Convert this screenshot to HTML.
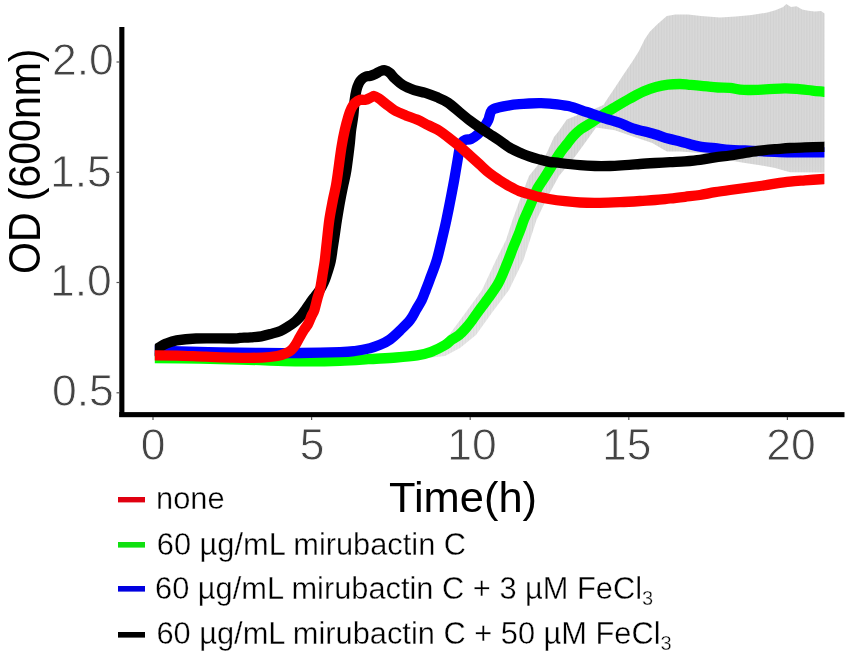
<!DOCTYPE html>
<html><head><meta charset="utf-8"><style>
html,body{margin:0;padding:0;background:#fff;}
body{width:855px;height:656px;overflow:hidden;position:relative;}
svg{position:absolute;left:0;top:0;will-change:transform;}
text{font-family:"Liberation Sans",sans-serif;}
</style></head><body>
<svg width="855" height="656" viewBox="0 0 855 656">
<rect width="855" height="656" fill="#fff"/>
<defs><linearGradient id="bg" gradientUnits="userSpaceOnUse" x1="0" y1="0" x2="0" y2="360"><stop offset="0" stop-color="#d8d8d8"/><stop offset="0.45" stop-color="#d8d8d8"/><stop offset="0.62" stop-color="#e0e0e0"/><stop offset="1" stop-color="#e6e6e6"/></linearGradient>
<pattern id="st" patternUnits="userSpaceOnUse" width="2.8" height="10"><rect x="0" width="1" height="10" fill="#000" fill-opacity="0.035"/></pattern></defs>
<polygon points="418.0,356.0 437.0,348.0 449.0,335.0 466.0,312.0 482.0,290.0 496.0,260.0 506.0,240.0 512.5,220.0 520.5,198.0 529.0,176.0 537.0,166.0 545.4,156.0 549.8,146.3 554.0,137.0 558.3,131.7 566.8,119.5 580.0,114.0 592.0,110.0 603.4,104.9 608.3,97.6 613.2,90.2 618.0,82.9 622.9,75.6 627.8,68.3 632.7,61.0 638.8,51.2 644.9,39.0 649.8,31.7 657.1,24.4 666.8,15.9 675.4,14.5 688.2,14.5 701.0,16.0 720.0,17.4 735.8,16.6 751.6,15.0 767.4,12.6 775.3,10.3 783.2,7.1 786.3,3.9 791.0,7.1 796.6,6.3 802.1,9.5 808.4,10.7 814.7,11.4 821.0,11.0 824.5,13.4 824.5,172.5 790.0,172.2 775.0,168.0 760.0,165.2 745.0,163.0 733.0,161.0 715.0,156.0 700.0,153.0 680.0,151.5 667.0,151.5 661.6,148.5 652.3,143.0 633.6,136.8 614.8,130.2 596.1,127.4 590.0,136.0 575.5,156.0 559.0,176.0 547.0,198.0 536.5,220.0 530.0,240.0 523.5,260.0 509.0,290.0 492.5,312.0 476.0,335.0 460.0,348.0 445.0,356.0 418.0,359.0" fill="url(#bg)"/>
<polygon points="418.0,356.0 437.0,348.0 449.0,335.0 466.0,312.0 482.0,290.0 496.0,260.0 506.0,240.0 512.5,220.0 520.5,198.0 529.0,176.0 537.0,166.0 545.4,156.0 549.8,146.3 554.0,137.0 558.3,131.7 566.8,119.5 580.0,114.0 592.0,110.0 603.4,104.9 608.3,97.6 613.2,90.2 618.0,82.9 622.9,75.6 627.8,68.3 632.7,61.0 638.8,51.2 644.9,39.0 649.8,31.7 657.1,24.4 666.8,15.9 675.4,14.5 688.2,14.5 701.0,16.0 720.0,17.4 735.8,16.6 751.6,15.0 767.4,12.6 775.3,10.3 783.2,7.1 786.3,3.9 791.0,7.1 796.6,6.3 802.1,9.5 808.4,10.7 814.7,11.4 821.0,11.0 824.5,13.4 824.5,172.5 790.0,172.2 775.0,168.0 760.0,165.2 745.0,163.0 733.0,161.0 715.0,156.0 700.0,153.0 680.0,151.5 667.0,151.5 661.6,148.5 652.3,143.0 633.6,136.8 614.8,130.2 596.1,127.4 590.0,136.0 575.5,156.0 559.0,176.0 547.0,198.0 536.5,220.0 530.0,240.0 523.5,260.0 509.0,290.0 492.5,312.0 476.0,335.0 460.0,348.0 445.0,356.0 418.0,359.0" fill="url(#st)"/>
<clipPath id="cp"><rect x="154.8" y="0" width="669.6" height="420"/></clipPath>
<g fill="none" stroke-width="10.3" stroke-linejoin="round" stroke-linecap="butt" clip-path="url(#cp)">
<path d="M149.0,357.9 C150.0,357.9 146.5,357.9 155.0,358.0 C163.5,358.1 185.8,358.2 200.0,358.5 C214.2,358.8 228.3,359.2 240.0,359.5 C251.7,359.8 260.0,360.2 270.0,360.5 C280.0,360.8 288.3,361.2 300.0,361.3 C311.7,361.4 328.6,361.2 340.0,360.8 C351.4,360.4 358.8,359.8 368.1,359.2 C377.5,358.6 387.9,358.1 396.1,357.5 C404.3,356.9 411.4,356.3 417.2,355.4 C423.0,354.5 426.5,353.6 431.2,351.9 C435.9,350.1 441.8,347.0 445.3,344.9 C448.8,342.8 449.7,341.1 452.0,339.5 C454.3,337.9 456.8,336.9 459.1,335.0 C461.4,333.1 463.9,330.4 466.0,328.0 C468.1,325.6 470.0,323.2 472.0,320.5 C474.0,317.8 475.3,315.7 478.0,312.0 C480.7,308.3 484.6,303.3 488.0,298.5 C491.4,293.7 495.4,288.6 498.5,283.0 C501.6,277.4 504.0,270.9 506.5,264.8 C509.0,258.8 511.3,252.2 513.5,246.7 C515.7,241.2 517.8,236.4 519.5,232.0 C521.2,227.6 522.3,223.7 523.8,220.0 C525.2,216.3 526.8,213.3 528.2,210.0 C529.7,206.7 530.9,203.7 532.5,200.0 C534.1,196.3 535.5,192.0 537.7,188.0 C539.9,184.0 543.0,180.0 545.5,176.0 C548.0,172.0 550.5,168.0 553.0,164.0 C555.5,160.0 558.4,155.3 560.7,152.0 C563.0,148.7 564.9,146.7 567.0,144.0 C569.1,141.3 571.0,138.5 573.3,136.0 C575.6,133.5 578.1,131.2 581.0,129.0 C583.9,126.8 587.1,125.4 590.8,123.0 C594.5,120.6 598.8,117.2 603.0,114.5 C607.2,111.8 611.5,109.3 616.0,106.6 C620.5,103.9 625.3,101.0 630.0,98.5 C634.7,96.0 639.7,93.2 644.0,91.3 C648.3,89.4 652.0,88.1 656.0,87.0 C660.0,85.9 664.0,85.1 668.0,84.6 C672.0,84.1 676.5,84.0 680.0,84.0 C683.5,84.0 686.2,84.6 689.0,84.8 C691.8,85.0 693.6,85.1 696.7,85.4 C699.8,85.7 703.9,86.1 707.4,86.4 C710.9,86.8 714.2,87.2 718.0,87.5 C721.8,87.8 725.7,87.5 730.0,87.9 C734.3,88.3 738.1,89.7 744.0,89.9 C749.9,90.2 758.5,89.7 765.3,89.4 C772.0,89.1 779.2,88.4 784.5,88.3 C789.8,88.2 792.7,88.5 797.3,88.9 C801.9,89.3 807.8,90.1 812.3,90.6 C816.8,91.1 821.1,91.5 824.0,91.8 C826.9,92.1 829.0,92.3 830.0,92.4" stroke="#00ff00"/>
<path d="M149.0,350.3 C150.0,350.3 149.8,350.3 155.0,350.5 C160.2,350.7 169.2,351.0 180.0,351.3 C190.8,351.6 206.3,352.0 220.0,352.3 C233.7,352.6 248.7,352.9 262.0,353.0 C275.3,353.1 287.0,353.1 300.0,353.0 C313.0,352.9 330.8,352.5 340.0,352.2 C349.2,351.9 350.0,351.7 355.0,351.0 C360.0,350.3 365.8,349.2 370.0,348.2 C374.2,347.2 376.7,346.2 380.0,344.8 C383.3,343.4 386.7,341.9 390.0,339.5 C393.3,337.1 396.6,333.8 400.0,330.5 C403.4,327.2 407.4,323.4 410.1,320.0 C412.8,316.6 414.1,313.3 416.0,310.0 C417.9,306.7 420.2,303.3 421.8,300.0 C423.4,296.7 424.5,293.3 425.8,290.0 C427.1,286.7 427.8,285.0 429.6,280.0 C431.4,275.0 434.8,266.7 436.8,260.0 C438.8,253.3 440.2,246.7 441.8,240.0 C443.4,233.3 445.0,226.7 446.4,220.0 C447.8,213.3 449.1,206.7 450.4,200.0 C451.7,193.3 453.0,186.7 454.2,180.0 C455.4,173.3 456.7,165.2 457.6,160.0 C458.5,154.8 458.8,151.9 459.5,149.0 C460.2,146.1 460.8,144.0 461.8,142.5 C462.8,141.0 464.0,140.4 465.5,139.8 C467.0,139.2 469.0,139.9 471.0,139.0 C473.0,138.1 475.4,136.5 477.6,134.5 C479.8,132.5 482.2,129.4 484.0,127.0 C485.8,124.6 487.0,122.8 488.3,120.0 C489.6,117.2 489.7,112.6 491.6,110.5 C493.5,108.4 496.5,108.2 499.5,107.3 C502.5,106.4 506.1,105.8 509.4,105.3 C512.7,104.8 516.0,104.5 519.3,104.2 C522.6,103.9 525.9,103.7 529.2,103.5 C532.5,103.3 535.6,103.2 539.1,103.2 C542.6,103.2 545.1,103.1 550.0,103.6 C554.9,104.1 562.2,104.7 568.3,106.1 C574.4,107.5 580.5,110.0 586.6,112.0 C592.7,114.0 599.3,116.6 604.9,118.4 C610.5,120.2 615.4,121.3 620.0,123.0 C624.6,124.7 627.0,126.5 632.7,128.3 C638.4,130.1 648.1,132.3 654.0,134.0 C659.9,135.7 663.7,137.3 668.0,138.5 C672.3,139.7 676.3,140.5 680.0,141.4 C683.7,142.3 686.7,143.3 690.0,144.2 C693.3,145.1 695.8,145.9 700.0,146.6 C704.2,147.3 710.0,147.6 715.0,148.2 C720.0,148.8 725.0,149.6 730.0,150.0 C735.0,150.4 740.0,150.3 745.0,150.5 C750.0,150.7 755.0,151.0 760.0,151.2 C765.0,151.4 770.0,151.7 775.0,151.9 C780.0,152.1 785.0,152.3 790.0,152.4 C795.0,152.5 799.3,152.4 805.0,152.4 C810.7,152.4 819.8,152.3 824.0,152.3 C828.2,152.3 829.0,152.3 830.0,152.3" stroke="#0000ff"/>
<path d="M149.9,353.1 C150.7,352.6 153.3,351.0 155.0,350.0 C156.7,349.0 158.2,348.1 160.0,347.0 C161.8,345.9 163.2,344.7 166.0,343.6 C168.8,342.5 171.6,341.2 176.6,340.4 C181.6,339.5 186.6,338.8 196.0,338.5 C205.4,338.2 225.7,338.6 233.0,338.5 C240.3,338.4 237.1,338.1 240.0,337.9 C242.9,337.7 247.1,337.6 250.7,337.3 C254.2,337.0 257.8,336.9 261.3,336.3 C264.9,335.7 268.8,334.5 272.0,333.6 C275.2,332.7 277.8,332.0 280.5,330.9 C283.2,329.8 285.5,328.3 288.0,326.7 C290.5,325.1 293.4,323.1 295.5,321.3 C297.6,319.5 299.1,317.9 300.8,316.0 C302.5,314.1 303.9,311.9 305.5,309.6 C307.1,307.4 308.8,304.8 310.4,302.5 C312.0,300.2 313.7,298.1 315.3,296.0 C316.9,293.9 318.4,292.2 319.8,290.0 C321.2,287.8 322.7,285.0 323.8,282.5 C324.9,280.0 325.5,278.6 326.6,275.0 C327.8,271.4 329.7,265.8 330.7,261.2 C331.7,256.6 332.1,252.1 332.8,247.5 C333.5,242.9 334.2,238.3 334.9,233.7 C335.6,229.1 336.0,225.6 336.9,220.0 C337.8,214.4 339.2,205.8 340.3,200.0 C341.4,194.2 342.3,190.0 343.3,185.0 C344.3,180.0 345.4,176.5 346.4,170.0 C347.4,163.5 348.7,152.7 349.5,146.2 C350.3,139.7 350.4,136.1 351.0,131.0 C351.6,125.9 352.7,120.8 353.3,115.7 C353.9,110.6 354.1,104.8 354.6,100.5 C355.1,96.2 355.8,92.9 356.5,90.0 C357.2,87.1 358.1,84.8 359.0,83.0 C359.9,81.2 360.8,80.1 362.0,79.0 C363.2,77.9 364.7,77.0 366.0,76.5 C367.3,76.0 368.4,76.4 370.0,76.0 C371.6,75.6 373.5,74.8 375.3,74.0 C377.1,73.2 379.2,71.6 380.8,71.0 C382.4,70.4 383.4,70.0 384.9,70.3 C386.4,70.6 388.4,71.7 390.0,73.0 C391.6,74.3 392.4,76.2 394.6,78.2 C396.8,80.2 399.7,83.2 403.0,85.2 C406.3,87.2 410.5,88.8 414.2,90.1 C417.9,91.4 421.6,91.7 425.4,92.9 C429.1,94.1 432.9,95.5 436.7,97.1 C440.4,98.7 444.0,100.0 447.9,102.6 C451.8,105.1 456.2,109.4 459.8,112.4 C463.4,115.4 466.4,117.9 469.7,120.4 C473.0,122.9 476.4,125.3 479.7,127.6 C483.0,129.9 486.3,131.8 489.6,134.0 C492.9,136.2 496.2,138.3 499.5,140.6 C502.8,142.8 506.1,145.5 509.4,147.5 C512.7,149.5 516.0,151.0 519.3,152.5 C522.6,154.0 525.9,155.2 529.2,156.4 C532.5,157.6 535.8,158.5 539.1,159.4 C542.4,160.3 545.6,161.2 549.1,161.8 C552.6,162.4 554.9,162.4 560.0,163.0 C565.1,163.6 574.2,164.6 580.0,165.1 C585.8,165.6 590.0,165.8 595.0,166.0 C600.0,166.2 605.0,166.1 610.0,166.0 C615.0,165.9 620.0,165.5 625.0,165.2 C630.0,164.9 635.0,164.4 640.0,164.0 C645.0,163.6 650.0,163.3 655.0,163.0 C660.0,162.7 665.0,162.5 670.0,162.2 C675.0,161.9 680.0,161.8 685.0,161.4 C690.0,161.0 695.0,160.6 700.0,159.9 C705.0,159.2 710.0,158.1 715.0,157.4 C720.0,156.7 725.0,156.2 730.0,155.5 C735.0,154.8 740.0,153.8 745.0,153.0 C750.0,152.2 755.0,151.3 760.0,150.7 C765.0,150.1 770.0,149.6 775.0,149.2 C780.0,148.8 785.0,148.3 790.0,148.0 C795.0,147.7 799.3,147.6 805.0,147.4 C810.7,147.2 819.8,146.9 824.0,146.8 C828.2,146.7 829.0,146.6 830.0,146.6" stroke="#000"/>
<path d="M149.6,355.3 C150.6,355.4 151.0,355.4 155.6,355.4 C160.2,355.4 168.6,355.4 177.0,355.6 C185.4,355.8 196.7,356.4 206.0,356.7 C215.3,357.0 223.7,357.5 233.0,357.6 C242.3,357.8 254.6,357.9 262.0,357.6 C269.4,357.3 273.3,356.7 277.3,356.0 C281.3,355.3 283.6,354.3 285.9,353.3 C288.2,352.3 289.6,351.5 291.2,350.1 C292.8,348.7 294.1,346.9 295.5,344.8 C296.9,342.7 298.3,339.8 299.7,337.3 C301.1,334.8 302.6,332.2 304.0,329.9 C305.4,327.6 307.1,325.8 308.3,323.5 C309.6,321.2 310.5,318.2 311.5,316.0 C312.5,313.8 313.4,313.0 314.4,310.0 C315.4,307.0 316.5,301.6 317.5,298.0 C318.5,294.4 319.4,292.5 320.2,288.7 C321.0,284.9 321.8,279.6 322.5,275.0 C323.2,270.4 324.0,266.7 324.7,261.2 C325.4,255.7 326.0,248.9 326.8,242.0 C327.6,235.1 328.3,227.0 329.3,220.0 C330.3,213.0 331.8,205.8 332.9,200.0 C334.0,194.2 335.1,190.4 336.0,185.4 C336.9,180.4 337.4,176.4 338.3,170.0 C339.2,163.6 340.4,153.7 341.5,147.0 C342.6,140.3 343.6,135.2 344.8,130.0 C346.0,124.8 347.4,119.7 348.5,116.0 C349.6,112.3 350.4,110.2 351.5,108.0 C352.6,105.8 353.6,104.4 355.0,103.0 C356.4,101.6 358.4,100.3 360.2,99.8 C362.0,99.3 363.9,100.2 365.7,99.8 C367.5,99.4 369.8,97.9 371.2,97.3 C372.6,96.7 372.8,95.8 374.2,96.0 C375.6,96.2 377.4,97.5 379.4,98.8 C381.4,100.1 383.6,102.2 386.1,104.1 C388.6,106.0 391.3,108.5 394.6,110.4 C397.9,112.3 402.1,113.9 405.8,115.4 C409.5,116.9 413.3,118.0 417.0,119.6 C420.7,121.2 424.4,123.3 428.2,125.2 C431.9,127.1 435.9,128.6 439.5,130.8 C443.1,133.0 446.5,136.0 449.9,138.6 C453.3,141.2 456.5,143.7 459.8,146.5 C463.1,149.3 466.4,152.4 469.7,155.4 C473.0,158.4 476.4,161.4 479.7,164.4 C483.0,167.4 486.3,170.7 489.6,173.3 C492.9,175.9 496.2,178.0 499.5,180.2 C502.8,182.3 506.1,184.4 509.4,186.2 C512.7,188.0 516.0,189.8 519.3,191.1 C522.6,192.4 525.9,193.1 529.2,194.1 C532.5,195.1 535.8,196.3 539.1,197.1 C542.4,197.9 544.8,198.3 549.1,199.0 C553.4,199.7 559.9,200.6 565.0,201.2 C570.1,201.8 574.2,202.2 580.0,202.5 C585.8,202.8 593.3,202.9 600.0,202.8 C606.7,202.8 613.3,202.5 620.0,202.2 C626.7,201.9 634.2,201.4 640.0,201.0 C645.8,200.6 650.0,200.4 655.0,200.0 C660.0,199.6 665.0,199.0 670.0,198.5 C675.0,198.0 680.0,197.4 685.0,196.8 C690.0,196.2 695.0,195.8 700.0,195.0 C705.0,194.2 710.0,193.0 715.0,192.2 C720.0,191.4 725.0,190.7 730.0,190.0 C735.0,189.3 740.0,188.7 745.0,188.0 C750.0,187.3 755.0,186.7 760.0,186.0 C765.0,185.3 770.0,184.4 775.0,183.7 C780.0,183.0 785.0,182.3 790.0,181.7 C795.0,181.1 799.3,180.8 805.0,180.3 C810.7,179.9 819.8,179.3 824.0,179.0 C828.2,178.7 829.0,178.7 830.0,178.6" stroke="#ff0000"/>
</g>
<rect x="119.3" y="27" width="5.1" height="390" fill="#000"/>
<rect x="119.3" y="412.1" width="725.2" height="5.1" fill="#000"/>
<g stroke="#555" stroke-width="1.2">
<line x1="116.5" y1="62" x2="119.3" y2="62"/><line x1="116.5" y1="172.3" x2="119.3" y2="172.3"/><line x1="116.5" y1="282.5" x2="119.3" y2="282.5"/><line x1="116.5" y1="392.8" x2="119.3" y2="392.8"/>
<line x1="153" y1="417" x2="153" y2="420"/><line x1="311.6" y1="417" x2="311.6" y2="420"/><line x1="470.2" y1="417" x2="470.2" y2="420"/><line x1="628.8" y1="417" x2="628.8" y2="420"/><line x1="787.4" y1="417" x2="787.4" y2="420"/>
</g>
<g fill="#444" font-size="44.5" stroke="#fff" stroke-width="0.8">
<text x="52" y="74.5">2.0</text>
<text x="50" y="186.5">1.5</text>
<text x="50" y="296.3">1.0</text>
<text x="52" y="405.5">0.5</text>
<g text-anchor="middle">
<text x="153" y="460">0</text>
<text x="312" y="460">5</text>
<text x="472" y="460">10</text>
<text x="626.8" y="460">15</text>
<text x="791" y="460">20</text>
</g>
</g>
<text transform="translate(40.3,272) rotate(-90) scale(1,1.1)" font-size="41" fill="#000" x="-2" y="0">OD (600nm)</text>
<text x="389" y="512" font-size="42" fill="#000" transform="translate(389 0) scale(1.035 1) translate(-389 0)">Time(h)</text>
<rect x="118" y="497" width="27" height="5.4" fill="#e00010"/>
<rect x="118" y="542" width="27" height="5.6" fill="#10e010"/>
<rect x="118" y="586" width="27" height="5.6" fill="#0000e0"/>
<rect x="118" y="632" width="27" height="5.6" fill="#000"/>
<g font-size="30.8" fill="#000" stroke="#fff" stroke-width="0.35">
<text x="156" y="509">none</text>
<text x="156.8" y="554.5">60 µg/mL mirubactin C</text>
<text x="155" y="599">60 µg/mL mirubactin C + 3 µM FeCl<tspan font-size="20" dy="6">3</tspan></text>
<text x="156.4" y="644">60 µg/mL mirubactin C + 50 µM FeCl<tspan font-size="20" dy="6">3</tspan></text>
</g>
</svg>
</body></html>
